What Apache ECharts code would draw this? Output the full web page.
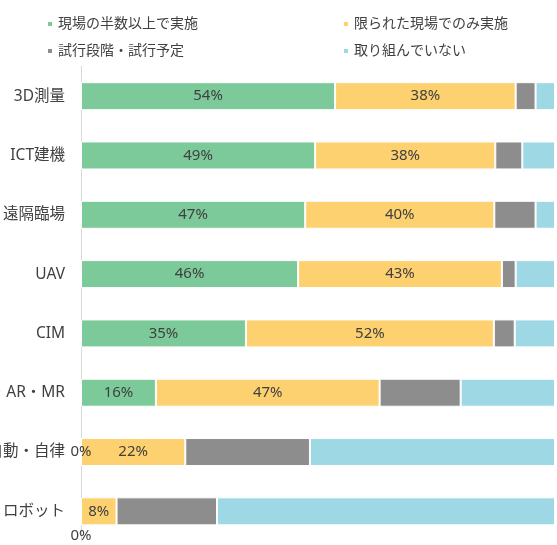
<!DOCTYPE html>
<html>
<head>
<meta charset="utf-8">
<script src="https://cdn.jsdelivr.net/npm/echarts@6/dist/echarts.min.js"></script>
<style>
  html, body { margin: 0; padding: 0; background: #fff; }
  #chart { width: 557px; height: 545px; }
</style>
</head>
<body>
<div id="chart"></div>
<script>
// カテゴリ（上から順）
const categories = ['3D測量', 'ICT建機', '遠隔臨場', 'UAV', 'CIM', 'VR・AR・MR', '自動・自律', 'ロボット']
// 凡例の名前
const seriesNames = ['現場の半数以上で実施', '限られた現場でのみ実施', '試行段階・試行予定', '取り組んでいない']
// 各系列の割合(%)
const majority = [53.6, 49.4, 47.3, 45.8, 34.8, 15.8, 0, null]
const limited = [38.1, 38.0, 39.9, 43.0, 52.3, 47.2, 22.0, 7.5]
const trial = [4.2, 5.7, 8.7, 2.9, 4.4, 17.1, 26.3, 21.2]
const none = [4.1, 6.9, 4.1, 8.3, 8.5, 19.9, 51.7, 71.3]
// 横軸の目盛ラベル（0%のみ表示）
const xTickLabels = ['0%']

const colors = ['#7cca99', '#fdd170', '#8e8d8d', '#9fd8e5']
const fontFamily = "'Noto Sans', 'Noto Sans CJK JP', sans-serif"
const textColor = '#404040'

const allData = [majority, limited, trial, none]
const showLabel = [true, true, false, false]

const myChart = echarts.init(document.getElementById('chart'))

const option = {
  animation: false,
  color: colors,
  textStyle: { fontFamily: fontFamily },
  // 凡例は2列×2行に並べる
  legend: seriesNames.map((name, i) => ({
    data: [name],
    left: i % 2 === 0 ? 41 : 337,
    top: i < 2 ? 12 : 39,
    icon: 'rect',
    itemWidth: 6,
    itemHeight: 6,
    textStyle: { fontSize: 14, color: textColor, fontFamily: fontFamily }
  })),
  grid: {
    left: 81,
    right: 2,
    top: 66.5,
    bottom: 4,
    containLabel: false,
    outerBoundsMode: 'none'
  },
  xAxis: {
    type: 'value',
    min: 0,
    max: 100,
    interval: 100,
    axisLine: { show: false },
    axisTick: { show: false },
    splitLine: { show: false },
    axisLabel: {
      margin: -13,
      fontSize: 15,
      color: textColor,
      fontFamily: fontFamily,
      formatter: (v) => (v === 0 ? xTickLabels[0] : '')
    }
  },
  yAxis: {
    type: 'category',
    inverse: true,
    data: categories,
    axisLine: { show: true, lineStyle: { color: '#d9d9d9', width: 1 } },
    axisTick: { show: false },
    axisLabel: {
      margin: 16,
      fontSize: 15.5,
      color: textColor,
      fontFamily: fontFamily
    }
  },
  series: seriesNames.map((name, i) => ({
    name: name,
    type: 'bar',
    stack: 'total',
    barWidth: 28,
    data: allData[i],
    itemStyle: { borderColor: '#fff', borderWidth: 1 },
    label: {
      show: showLabel[i],
      position: 'inside',
      fontSize: 15,
      color: textColor,
      fontFamily: fontFamily,
      formatter: (p) => (p.value == null ? '' : Math.round(p.value) + '%')
    }
  }))
}

myChart.setOption(option)
</script>
</body>
</html>
